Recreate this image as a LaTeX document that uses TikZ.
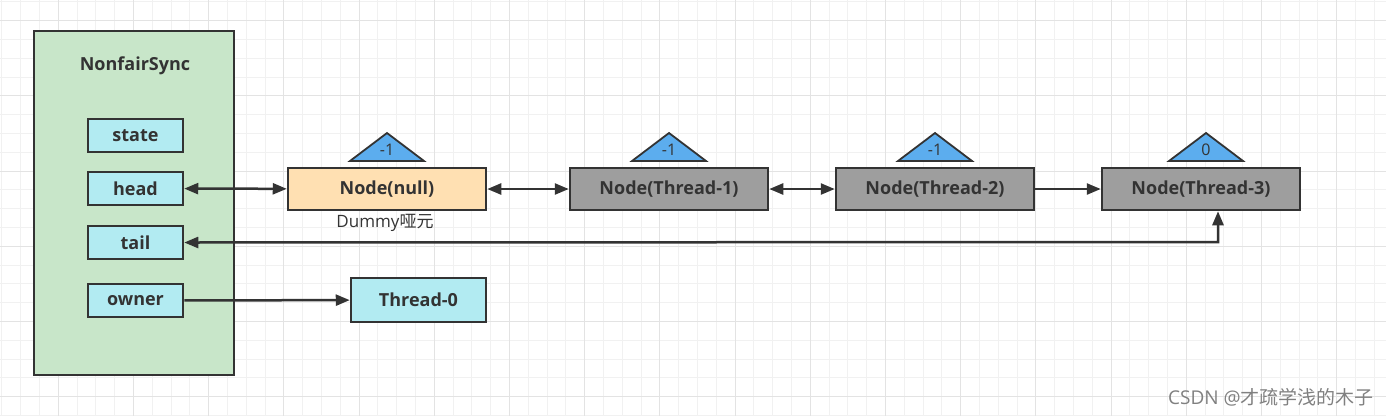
\documentclass[tikz,border=0pt]{standalone}
\usepackage{fontspec}
\setmainfont{Open Sans}
\newfontfamily\cjk{Noto Sans CJK SC}
\usetikzlibrary{arrows.meta}

\definecolor{linegray}{HTML}{333333}
\definecolor{syncgreen}{HTML}{C8E6C9}
\definecolor{fieldcyan}{HTML}{B2EBF2}
\definecolor{nullorange}{HTML}{FFE0B2}
\definecolor{nodegray}{HTML}{9E9E9E}
\definecolor{wsblue}{HTML}{5CADEE}
\definecolor{gridminor}{HTML}{F1F1F1}
\definecolor{gridmajor}{HTML}{E3E3E3}

\begin{document}
\begin{tikzpicture}[x=1pt, y=-1pt,
    >={Triangle[length=14pt,width=11pt]},
    box/.style={draw=linegray, line width=2.5pt, inner sep=0pt, text=linegray,
      font=\bfseries\fontsize{18}{18}\selectfont},
    field/.style={box, fill=fieldcyan, minimum width=95pt, minimum height=33pt},
    qnode/.style={box, fill=nodegray, minimum width=198pt, minimum height=42pt},
    ws/.style={draw=linegray, line width=1.8pt, fill=wsblue},
    edge/.style={line width=2.5pt, draw=linegray}]

  \useasboundingbox (0,0) rectangle (1386,416);

  % grid
  \foreach \i in {0,...,73}
    \draw[gridminor, line width=1pt] ({1.9+\i*18.8},0) -- ({1.9+\i*18.8},416);
  \foreach \i in {0,...,22}
    \draw[gridminor, line width=1pt] (0,{1.9+\i*18.8}) -- (1386,{1.9+\i*18.8});
  \foreach \i in {0,...,17}
    \draw[gridmajor, line width=1pt] ({58.3+\i*75.2},0) -- ({58.3+\i*75.2},416);
  \foreach \i in {0,...,5}
    \draw[gridmajor, line width=1pt] (0,{20.7+\i*75.2}) -- (1386,{20.7+\i*75.2});

  % NonfairSync
  \node[box, fill=syncgreen, minimum width=200pt, minimum height=344pt] (sync) at (134,203) {};
  \node[text=linegray, font=\bfseries\fontsize{18}{18}\selectfont] (title) at (135,66) {NonfairSync};
  \node[field] (state) at (135.5,135.5) {state};
  \node[field] (head)  at (135.5,188.5) {head};
  \node[field] (tail)  at (135.5,242.5) {tail};
  \node[field] (owner) at (135.5,300.5) {owner};

  % queue
  \node[qnode, fill=nullorange] (n0) at (387,189)  {Node(null)};
  \node[qnode] (n1) at (669,189)  {Node(Thread-1)};
  \node[qnode] (n2) at (935,189)  {Node(Thread-2)};
  \node[qnode] (n3) at (1201,189) {Node(Thread-3)};
  \node[text=linegray, font=\fontsize{17}{17}\selectfont] (dummy) at (385,223) {Dummy\cjk 哑元};
  \node[field, minimum width=135pt, minimum height=44pt] (t0) at (418.5,300) {Thread-0};

  % waitStatus
  \foreach \x/\v [count=\i] in {387/-1, 669/-1, 935/-1, 1206/0} {
    \draw[ws] (\x-37,161) -- (\x,133) -- (\x+37,161) -- cycle;
    \node[text=linegray, font=\fontsize{16}{16}\selectfont] (ws\i) at (\x,150) {\v};
  }

  \coordinate (tc) at (1218,242);

  \draw[edge, <->] (head) -- (n0);
  \draw[edge, <->] (n0) -- (n1);
  \draw[edge, <->] (n1) -- (n2);
  \draw[edge, ->] (n2) -- (n3);
  \draw[edge, <->] (tail.east) -- (tc) -- (tc |- n3.south);
  \draw[edge, ->] (owner) -- (t0);

  \node[text=black!50, font=\fontsize{19}{19}\selectfont] (mark) at (1271,397) {CSDN @\cjk 才疏学浅的木子};
\end{tikzpicture}
\end{document}
